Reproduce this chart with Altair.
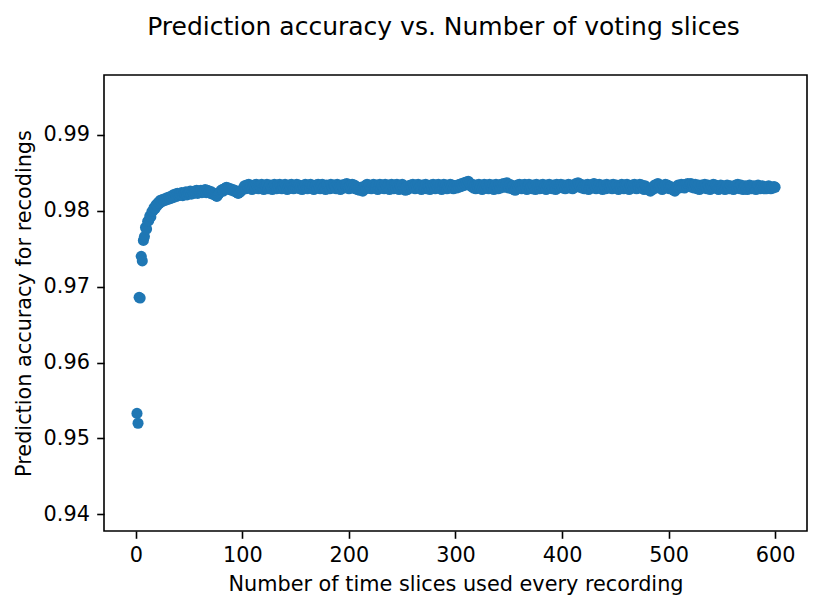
import altair as alt
import pandas as pd

# accuracy values in units of 1e-5, one per number of voting slices (1..600)
acc_e5 = [
    95330, 95200, 96860, 96850, 97400, 97340, 97610, 97660, 97780, 97760,
    97860, 97870, 97930, 97920, 97990, 98000, 98040, 98030, 98080, 98070,
    98110, 98100, 98140, 98120, 98150, 98130, 98160, 98140, 98170, 98150,
    98180, 98160, 98190, 98170, 98210, 98180, 98220, 98190, 98230, 98200,
    98220, 98210, 98240, 98200, 98230, 98220, 98250, 98210, 98240, 98230,
    98260, 98220, 98250, 98230, 98260, 98240, 98270, 98230, 98260, 98250,
    98270, 98240, 98260, 98250, 98280, 98240, 98270, 98250, 98260, 98230,
    98250, 98220, 98230, 98210, 98200, 98190, 98210, 98230, 98250, 98270,
    98280, 98260, 98290, 98300, 98310, 98290, 98300, 98280, 98290, 98270,
    98280, 98260, 98270, 98250, 98240, 98230, 98240, 98250, 98270, 98280,
    98300, 98330, 98290, 98340, 98310, 98350, 98300, 98320, 98280, 98330,
    98340, 98300, 98350, 98310, 98290, 98330, 98320, 98350, 98300, 98280,
    98330, 98310, 98350, 98290, 98320, 98340, 98300, 98280, 98330, 98350,
    98310, 98290, 98340, 98300, 98350, 98320, 98290, 98330, 98300, 98350,
    98320, 98280, 98310, 98340, 98300, 98350, 98320, 98290, 98330, 98310,
    98350, 98300, 98340, 98290, 98320, 98280, 98330, 98310, 98350, 98300,
    98290, 98340, 98310, 98350, 98300, 98330, 98280, 98320, 98340, 98300,
    98350, 98310, 98290, 98330, 98350, 98300, 98320, 98280, 98340, 98310,
    98330, 98290, 98350, 98310, 98300, 98340, 98320, 98290, 98350, 98330,
    98310, 98280, 98340, 98320, 98300, 98350, 98330, 98360, 98310, 98290,
    98330, 98300, 98350, 98310, 98340, 98290, 98320, 98280, 98300, 98270,
    98310, 98280, 98260, 98300, 98330, 98290, 98350, 98310, 98340, 98300,
    98290, 98330, 98350, 98310, 98300, 98340, 98280, 98320, 98350, 98300,
    98340, 98310, 98290, 98350, 98320, 98300, 98340, 98280, 98330, 98350,
    98310, 98290, 98340, 98300, 98350, 98320, 98280, 98330, 98310, 98350,
    98300, 98290, 98270, 98310, 98280, 98330, 98300, 98340, 98310, 98350,
    98320, 98290, 98340, 98300, 98350, 98310, 98330, 98280, 98340, 98320,
    98300, 98350, 98290, 98330, 98310, 98280, 98340, 98300, 98350, 98320,
    98290, 98340, 98310, 98350, 98300, 98330, 98280, 98320, 98350, 98310,
    98340, 98290, 98320, 98300, 98350, 98310, 98340, 98290, 98330, 98310,
    98300, 98340, 98310, 98350, 98320, 98360, 98330, 98370, 98340, 98380,
    98350, 98390, 98360, 98340, 98320, 98350, 98300, 98330, 98290, 98340,
    98310, 98350, 98300, 98330, 98280, 98320, 98350, 98300, 98340, 98310,
    98290, 98350, 98320, 98300, 98340, 98280, 98330, 98350, 98310, 98290,
    98340, 98300, 98350, 98320, 98360, 98310, 98340, 98370, 98330, 98300,
    98350, 98310, 98290, 98330, 98280, 98270, 98300, 98340, 98310, 98350,
    98320, 98290, 98340, 98300, 98350, 98310, 98280, 98330, 98350, 98300,
    98320, 98290, 98340, 98310, 98280, 98350, 98300, 98330, 98290, 98340,
    98310, 98350, 98300, 98330, 98280, 98340, 98320, 98350, 98300, 98330,
    98290, 98340, 98310, 98280, 98350, 98300, 98330, 98310, 98350, 98320,
    98300, 98340, 98290, 98330, 98310, 98350, 98300, 98340, 98320, 98290,
    98340, 98310, 98360, 98330, 98370, 98340, 98310, 98350, 98300, 98330,
    98290, 98340, 98310, 98350, 98280, 98320, 98340, 98300, 98350, 98360,
    98320, 98290, 98340, 98310, 98350, 98300, 98330, 98280, 98340, 98310,
    98290, 98350, 98300, 98330, 98310, 98340, 98290, 98350, 98320, 98300,
    98340, 98310, 98280, 98330, 98300, 98350, 98320, 98290, 98340, 98310,
    98350, 98300, 98280, 98330, 98310, 98340, 98300, 98350, 98320, 98290,
    98330, 98310, 98350, 98300, 98340, 98320, 98280, 98330, 98310, 98290,
    98300, 98270, 98260, 98290, 98280, 98310, 98340, 98300, 98350, 98360,
    98320, 98340, 98300, 98280, 98330, 98310, 98350, 98300, 98340, 98310,
    98290, 98320, 98300, 98280, 98270, 98260, 98290, 98310, 98340, 98300,
    98330, 98350, 98310, 98340, 98300, 98350, 98320, 98360, 98330, 98350,
    98360, 98310, 98340, 98300, 98350, 98320, 98290, 98340, 98280, 98310,
    98340, 98300, 98330, 98350, 98310, 98290, 98340, 98300, 98280, 98330,
    98310, 98350, 98300, 98340, 98320, 98290, 98280, 98310, 98340, 98300,
    98330, 98290, 98280, 98320, 98340, 98300, 98290, 98330, 98310, 98290,
    98280, 98320, 98340, 98300, 98350, 98310, 98290, 98340, 98300, 98280,
    98310, 98330, 98290, 98280, 98320, 98340, 98300, 98290, 98310, 98330,
    98300, 98280, 98320, 98340, 98300, 98290, 98320, 98330, 98300, 98290,
    98310, 98290, 98320, 98330, 98300, 98290, 98310, 98300, 98320, 98310,
]
slices = list(range(1, len(acc_e5) + 1))

x_ticks = [0, 100, 200, 300, 400, 500, 600]
y_ticks = [0.94, 0.95, 0.96, 0.97, 0.98, 0.99]

df = pd.DataFrame({"slices": slices, "acc": [v / 100000 for v in acc_e5]})

FONT = "DejaVu Sans"

chart = (
    alt.Chart(df)
    .mark_circle(size=123, color="#1f77b4", opacity=1)
    .encode(
        x=alt.X(
            "slices:Q",
            scale=alt.Scale(domain=[-29.95, 629.95], nice=False, zero=False),
            axis=alt.Axis(values=x_ticks, title="Number of time slices used every recording",
                          titlePadding=9),
        ),
        y=alt.Y(
            "acc:Q",
            scale=alt.Scale(domain=[0.9378, 0.9979], nice=False, zero=False),
            axis=alt.Axis(values=y_ticks, format=".2f", title="Prediction accuracy for recodings",
                          titlePadding=9),
        ),
    )
    .properties(
        width=703,
        height=456,
        background="white",
        autosize=alt.AutoSizeParams(type="none"),
        padding={"left": 96, "top": 67, "right": 15, "bottom": 71},
        title=alt.TitleParams(
            "Prediction accuracy vs. Number of voting slices",
            font=FONT, fontSize=25, fontWeight="normal", color="black",
            anchor="middle", baseline="alphabetic", offset=15, dx=-12,
        ),
    )
    .configure_view(stroke="black", strokeWidth=1.6, fill="white")
    .configure_axis(
        grid=False,
        domain=False,
        ticks=True,
        tickColor="black",
        tickWidth=1.6,
        tickSize=7.3,
        labelPadding=7.3,
        labelFont=FONT,
        labelFontSize=20.8,
        labelColor="black",
        titleFont=FONT,
        titleFontSize=20.8,
        titleFontWeight="normal",
        titleColor="black",
    )
)

chart.save("out.html", embed_options={"renderer": "svg", "actions": False})
